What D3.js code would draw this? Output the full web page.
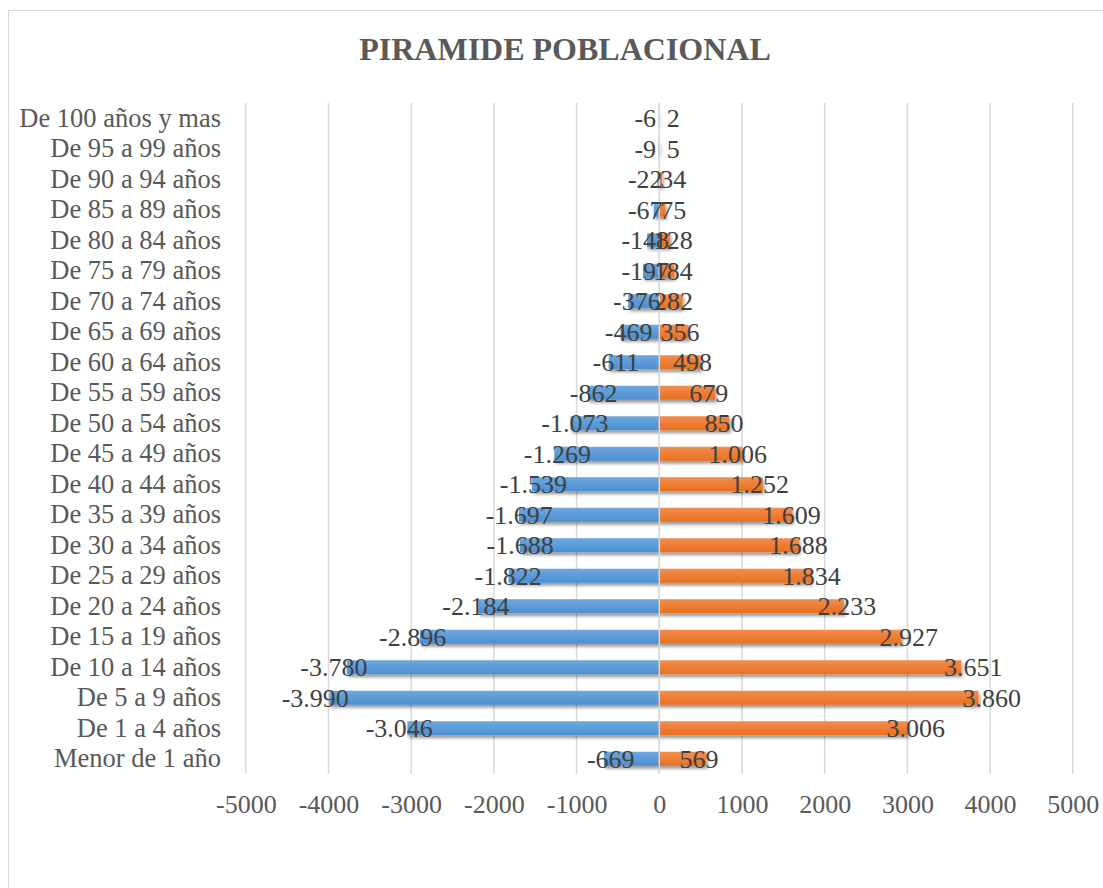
<!DOCTYPE html>
<html>
<head>
<meta charset="utf-8">
<script src="https://cdn.jsdelivr.net/npm/d3@7"></script>
<style>
  html, body { margin: 0; padding: 0; background: #ffffff; }
  svg { display: block; }
</style>
</head>
<body>
<svg id="chart" width="1103" height="888"></svg>
<script>
// ---- Data (top row to bottom row) ----
const categories = [
  "De 100 años y mas", "De 95 a 99 años", "De 90 a 94 años", "De 85 a 89 años",
  "De 80 a 84 años", "De 75 a 79 años", "De 70 a 74 años", "De 65 a 69 años",
  "De 60 a 64 años", "De 55 a 59 años", "De 50 a 54 años", "De 45 a 49 años",
  "De 40 a 44 años", "De 35 a 39 años", "De 30 a 34 años", "De 25 a 29 años",
  "De 20 a 24 años", "De 15 a 19 años", "De 10 a 14 años", "De 5 a 9 años",
  "De 1 a 4 años", "Menor de 1 año"
];
const hombres = [-6, -9, -22, -67, -148, -197, -376, -469, -611, -862, -1073, -1269,
  -1539, -1697, -1688, -1822, -2184, -2896, -3780, -3990, -3046, -669];
const mujeres = [2, 5, 34, 75, 128, 184, 282, 356, 498, 679, 850, 1006,
  1252, 1609, 1688, 1834, 2233, 2927, 3651, 3860, 3006, 569];
const tickValues = [-5000, -4000, -3000, -2000, -1000, 0, 1000, 2000, 3000, 4000, 5000];
const title = "PIRAMIDE POBLACIONAL";

// ---- Layout ----
const svg = d3.select("#chart");
const plot = { left: 245.8, right: 1072.8, top: 103, bottom: 774 };
const serif = "'Liberation Serif', 'Times New Roman', Times, serif";

const x = d3.scaleLinear().domain([-5000, 5000]).range([plot.left, plot.right]);
const y = d3.scaleBand().domain(categories).range([plot.top, plot.bottom])
  .paddingInner(0.54).paddingOuter(0.27);

const loc = d3.formatLocale({ decimal: ",", thousands: ".", grouping: [3], currency: ["", ""], minus: "-" });
const fmt = loc.format(",d");
const tickFmt = loc.format("d");

// defs: gradients + shadow
const defs = svg.append("defs");
const gBlue = defs.append("linearGradient").attr("id", "gBlue").attr("x1", 0).attr("y1", 0).attr("x2", 0).attr("y2", 1);
gBlue.append("stop").attr("offset", "0%").attr("stop-color", "#6ea8de");
gBlue.append("stop").attr("offset", "100%").attr("stop-color", "#4b8fd2");
const gOr = defs.append("linearGradient").attr("id", "gOr").attr("x1", 0).attr("y1", 0).attr("x2", 0).attr("y2", 1);
gOr.append("stop").attr("offset", "0%").attr("stop-color", "#f28d4e");
gOr.append("stop").attr("offset", "100%").attr("stop-color", "#e8701f");
const f = defs.append("filter").attr("id", "shadow").attr("x", "-10%").attr("y", "-50%").attr("width", "130%").attr("height", "250%");
f.append("feDropShadow").attr("dx", 1.5).attr("dy", 3).attr("stdDeviation", 1.8)
  .attr("flood-color", "#000").attr("flood-opacity", 0.38);

// chart border
svg.append("rect").attr("x", 8.5).attr("y", 10.5).attr("width", 1110).attr("height", 900)
  .attr("fill", "#fff").attr("stroke", "#d9d9d9").attr("stroke-width", 1);

// title
svg.append("text").attr("x", 565).attr("y", 60).attr("text-anchor", "middle")
  .attr("font-family", serif).attr("font-weight", "bold").attr("font-size", 32)
  .attr("fill", "#595959").text(title);

// gridlines
svg.append("g").selectAll("line").data(tickValues).join("line")
  .attr("x1", d => x(d)).attr("x2", d => x(d))
  .attr("y1", plot.top).attr("y2", plot.bottom)
  .attr("stroke", "#d9d9d9").attr("stroke-width", 1.5);

// x axis tick labels
const xAxis = d3.axisBottom(x).tickValues(tickValues).tickFormat(tickFmt).tickSize(0).tickPadding(0);
const gx = svg.append("g").attr("transform", `translate(0,${plot.bottom})`).call(xAxis);
gx.select(".domain").remove();
gx.selectAll("text").attr("font-family", serif).attr("font-size", 26).attr("fill", "#595959")
  .attr("dy", null).attr("y", 39);

// y axis category labels
const yAxis = d3.axisLeft(y).tickSize(0).tickPadding(0);
const gy = svg.append("g").attr("transform", `translate(221,0)`).call(yAxis);
gy.select(".domain").remove();
gy.selectAll("text").attr("font-family", serif).attr("font-size", 26.5).attr("fill", "#595959")
  .attr("dy", "0.32em");

// bars
const rows = categories.map((c, i) => ({ c, m: hombres[i], f: mujeres[i] }));
const bars = svg.append("g").attr("filter", "url(#shadow)");
bars.selectAll("rect.m").data(rows).join("rect").attr("class", "m")
  .attr("x", d => x(d.m)).attr("width", d => x(0) - x(d.m))
  .attr("y", d => y(d.c)).attr("height", y.bandwidth()).attr("fill", "url(#gBlue)");
bars.selectAll("rect.f").data(rows).join("rect").attr("class", "f")
  .attr("x", x(0)).attr("width", d => x(d.f) - x(0))
  .attr("y", d => y(d.c)).attr("height", y.bandwidth()).attr("fill", "url(#gOr)");

// zero line over bars
svg.append("line").attr("x1", x(0)).attr("x2", x(0)).attr("y1", plot.top).attr("y2", plot.bottom)
  .attr("stroke", "#d9d9d9").attr("stroke-width", 1.5);

// value labels
const labelOffset = v => {
  const px = Math.abs(x(v) - x(0));
  return Math.max(14, 1.076 * px - 11);
};
const lab = svg.append("g").attr("font-family", serif).attr("font-size", 26).attr("fill", "#404040")
  .attr("text-anchor", "middle");
lab.selectAll("text.m").data(rows).join("text").attr("class", "m")
  .attr("x", d => x(0) - labelOffset(d.m))
  .attr("y", d => y(d.c) + y.bandwidth() / 2).attr("dy", "0.34em")
  .text(d => fmt(d.m));
lab.selectAll("text.f").data(rows).join("text").attr("class", "f")
  .attr("x", d => x(0) + labelOffset(d.f))
  .attr("y", d => y(d.c) + y.bandwidth() / 2).attr("dy", "0.34em")
  .text(d => fmt(d.f));
</script>
</body>
</html>
